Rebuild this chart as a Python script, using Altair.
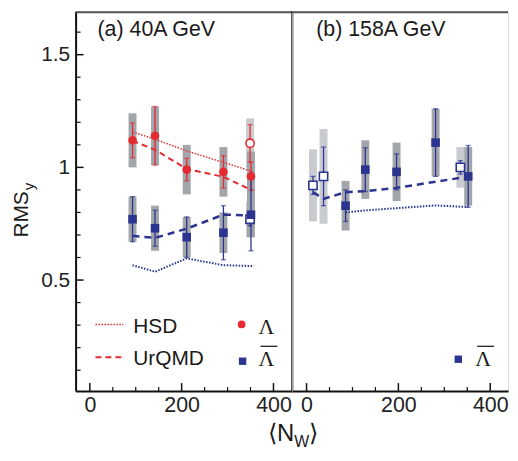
import altair as alt
import pandas as pd

# ---------------- data ----------------
# (a) 40A GeV
a_lam_n = [93, 142, 211, 291, 351]
a_lam_v = [1.12, 1.14, 0.99, 0.98, 0.96]
a_lam_stat = [0.077, 0.13, 0.05, 0.072, 0.062]
a_lam_sys = [0.12, 0.13, 0.11, 0.11, 0.11]

a_lam_open_n = [349]
a_lam_open_v = [1.107]
a_lam_open_stat = [0.083]
a_lam_open_sys = [0.11]

a_alam_n = [93, 142, 211, 291, 351]
a_alam_v = [0.77, 0.73, 0.69, 0.71, 0.79]
a_alam_stat = [0.10, 0.08, 0.09, 0.12, 0.16]
a_alam_sys = [0.10, 0.10, 0.09, 0.09, 0.10]

a_alam_open_n = [349]
a_alam_open_v = [0.77]
a_alam_open_stat = [0.03]
a_alam_open_sys = [0.08]

a_hsd_lam_n = [93, 142, 211, 291, 355]
a_hsd_lam_v = [1.157, 1.125, 1.073, 1.022, 0.981]
a_urqmd_lam_n = [93, 142, 211, 291, 355]
a_urqmd_lam_v = [1.118, 1.078, 0.993, 0.958, 0.897]
a_urqmd_alam_n = [93, 142, 211, 291, 355]
a_urqmd_alam_v = [0.696, 0.687, 0.728, 0.790, 0.787]
a_hsd_alam_n = [93, 142, 211, 291, 357]
a_hsd_alam_v = [0.566, 0.537, 0.596, 0.566, 0.562]

# (b) 158A GeV
b_alam_n = [85, 128, 196, 281, 352]
b_alam_v = [0.83, 0.99, 0.98, 1.11, 0.96]
b_alam_stat = [0.07, 0.097, 0.08, 0.15, 0.137]
b_alam_sys = [0.11, 0.13, 0.13, 0.15, 0.13]

b_alam_open_n = [14, 37, 335]
b_alam_open_v = [0.92, 0.96, 1.00]
b_alam_open_stat = [0.04, 0.13, 0.03]
b_alam_open_sys = [0.16, 0.21, 0.09]

b_urqmd_alam_n = [14, 37, 85, 128, 196, 352]
b_urqmd_alam_v = [0.89, 0.86, 0.89, 0.894, 0.909, 0.959]
b_hsd_alam_n = [85, 128, 196, 281, 352]
b_hsd_alam_v = [0.800, 0.809, 0.819, 0.831, 0.824]

x_major = [0, 200, 400]
x_minor = [50, 100, 150, 250, 300, 350]
y_major = [0.5, 1.0, 1.5]
y_minor = [0.1, 0.2, 0.3, 0.4, 0.6, 0.7, 0.8, 0.9, 1.1, 1.2, 1.3, 1.4, 1.6]

# ---------------- style ----------------
FONT = "Liberation Sans"
SERIF = "Liberation Serif"
RED = "#e52b2f"
BLUE = "#2b3590"
DARK = "#a2a5aa"
LIGHT = "#c9cbd1"
W_L, W_R, H = 218, 217, 382

xs_L = alt.Scale(domain=[-31, 441], nice=False, zero=False)
xs_R = alt.Scale(domain=[-31, 438.7], nice=False, zero=False)
ys = alt.Scale(domain=[0.0075, 1.6925], nice=False, zero=False)

x_axis = alt.Axis(values=x_major, format="d", title=None, ticks=False, tickSize=0,
                  grid=False, domainColor="#111", domainWidth=2, labelFont=FONT,
                  labelFontSize=21.5, labelColor="#222", labelPadding=4, labelFlush=False)
y_axis_L = alt.Axis(values=y_major, format="~g", title=None, ticks=False, tickSize=0,
                    grid=False, domainColor="#111", domainWidth=2, labelFont=FONT,
                    labelFontSize=21, labelColor="#222", labelPadding=6)


def pts_df(n, v, stat=None, sys=None):
    d = {"n": n, "v": v}
    if stat is not None:
        d["slo"] = [a - b for a, b in zip(v, stat)]
        d["shi"] = [a + b for a, b in zip(v, stat)]
    if sys is not None:
        d["ylo"] = [a - b for a, b in zip(v, sys)]
        d["yhi"] = [a + b for a, b in zip(v, sys)]
    return pd.DataFrame(d)


ONE = pd.DataFrame({"k": [0]})


def enc_x(xs):
    return alt.X("n:Q", scale=xs, axis=x_axis)


def enc_y(field, show):
    return alt.Y(field, scale=ys, axis=y_axis_L if show else None)


def box_layer(df, xs, show, color):
    return alt.Chart(df).mark_rule(color=color, strokeWidth=8, strokeCap="butt").encode(
        x=enc_x(xs), y=enc_y("ylo:Q", show), y2="yhi:Q")


def err_layers(df, xs, show, color):
    r = alt.Chart(df).mark_rule(color=color, strokeWidth=1.3).encode(
        x=enc_x(xs), y=enc_y("slo:Q", show), y2="shi:Q")
    c1 = alt.Chart(df).mark_tick(color=color, orient="horizontal", size=5, thickness=1.3).encode(
        x=enc_x(xs), y=enc_y("slo:Q", show))
    c2 = alt.Chart(df).mark_tick(color=color, orient="horizontal", size=5, thickness=1.3).encode(
        x=enc_x(xs), y=enc_y("shi:Q", show))
    return [r, c1, c2]


def line_layer(n, v, xs, show, color, dash, width):
    return alt.Chart(pd.DataFrame({"n": n, "v": v})).mark_line(
        color=color, strokeDash=dash, strokeWidth=width).encode(
        x=enc_x(xs), y=enc_y("v:Q", show))


def point_layer(df, xs, show, color, shape, filled):
    if filled:
        m = alt.Chart(df).mark_point(shape=shape, filled=True, fill=color, color=color,
                                     size=75, opacity=1, strokeWidth=0)
    else:
        m = alt.Chart(df).mark_point(shape=shape, filled=True, fill="white", stroke=color,
                                     size=70, opacity=1, strokeWidth=1.6)
    return m.encode(x=enc_x(xs), y=enc_y("v:Q", show))


def text(t, x, y, size=21, align="left", font=FONT, angle=0, color="#1a1a1a"):
    return alt.Chart(ONE).mark_text(text=t, font=font, fontSize=size, align=align,
                                    baseline="alphabetic", angle=angle, color=color).encode(
        x=alt.value(x), y=alt.value(y))


def hrule(x1, x2, y, color, width=2, dash=None):
    kw = dict(color=color, strokeWidth=width, strokeCap="butt")
    if dash:
        kw["strokeDash"] = dash
    return alt.Chart(ONE).mark_rule(**kw).encode(x=alt.value(x1), x2=alt.value(x2), y=alt.value(y))


def vrule(x, y1, y2, color, width=2):
    return alt.Chart(ONE).mark_rule(color=color, strokeWidth=width, strokeCap="butt").encode(
        x=alt.value(x), y=alt.value(y1), y2=alt.value(y2))


def tick_layers(xs, show_y):
    out = []
    out.append(alt.Chart(pd.DataFrame({"n": x_major})).mark_rule(color="#111", strokeWidth=1.5).encode(
        x=enc_x(xs), y=alt.value(H), y2=alt.value(H - 8)))
    out.append(alt.Chart(pd.DataFrame({"n": x_minor})).mark_rule(color="#111", strokeWidth=1.2).encode(
        x=enc_x(xs), y=alt.value(H), y2=alt.value(H - 4)))
    if show_y:
        out.append(alt.Chart(pd.DataFrame({"v": y_major})).mark_rule(color="#111", strokeWidth=1.5).encode(
            y=enc_y("v:Q", True), x=alt.value(0), x2=alt.value(8)))
        out.append(alt.Chart(pd.DataFrame({"v": y_minor})).mark_rule(color="#111", strokeWidth=1.2).encode(
            y=enc_y("v:Q", True), x=alt.value(0), x2=alt.value(5)))
    return out


# ---------------- panel (a) ----------------
dfa_lam = pts_df(a_lam_n, a_lam_v, a_lam_stat, a_lam_sys)
dfa_lam_o = pts_df(a_lam_open_n, a_lam_open_v, a_lam_open_stat, a_lam_open_sys)
dfa_alam = pts_df(a_alam_n, a_alam_v, a_alam_stat, a_alam_sys)
dfa_alam_o = pts_df(a_alam_open_n, a_alam_open_v, a_alam_open_stat, a_alam_open_sys)

la = [
    box_layer(dfa_lam_o, xs_L, True, LIGHT),
    box_layer(dfa_alam_o, xs_L, True, LIGHT),
    box_layer(dfa_lam, xs_L, True, DARK),
    box_layer(dfa_alam, xs_L, True, DARK),
    line_layer(a_hsd_lam_n, a_hsd_lam_v, xs_L, True, RED, [1.5, 1.5], 1.5),
    line_layer(a_urqmd_lam_n, a_urqmd_lam_v, xs_L, True, RED, [6, 4], 2),
    line_layer(a_urqmd_alam_n, a_urqmd_alam_v, xs_L, True, BLUE, [7, 5], 2.5),
    line_layer(a_hsd_alam_n, a_hsd_alam_v, xs_L, True, BLUE, [1.5, 1.5], 2),
]
la += err_layers(dfa_lam_o, xs_L, True, RED)
la += err_layers(dfa_lam, xs_L, True, RED)
la += err_layers(dfa_alam_o, xs_L, True, BLUE)
la += err_layers(dfa_alam, xs_L, True, BLUE)
la += [
    point_layer(dfa_lam_o, xs_L, True, RED, "circle", False),
    point_layer(dfa_lam, xs_L, True, RED, "circle", True),
    point_layer(dfa_alam_o, xs_L, True, BLUE, "square", False),
    point_layer(dfa_alam, xs_L, True, BLUE, "square", True),
]
la += tick_layers(xs_L, True)
la += [
    hrule(0, W_L, 1, "#555", 2),
    vrule(W_L, 0, H, "#111", 2),
    text("(a) 40A GeV", 22, 25, size=21.5),
    # legend
    hrule(20, 48, 315, RED, 1.5, [1.5, 1.5]),
    text("HSD", 58, 324),
    hrule(20, 48, 348, RED, 2, [6, 4]),
    text("UrQMD", 58, 356),
    alt.Chart(ONE).mark_point(shape="circle", filled=True, color=RED, size=60, opacity=1).encode(
        x=alt.value(167), y=alt.value(315)),
    text("Λ", 184, 325, size=22, font=SERIF),
    alt.Chart(ONE).mark_point(shape="square", filled=True, color=BLUE, size=55, opacity=1).encode(
        x=alt.value(168), y=alt.value(352)),
    text("Λ", 184, 357, size=22, font=SERIF),
    hrule(186, 203, 337, "#222", 1.3),
    # y title
    text("RMS", -48, 181, size=21, align="right", angle=270),
    text("y", -42, 180, size=15, align="left", angle=270),
    # x title
    text("⟨N", 220, 432, size=24, align="right"),
    text("W", 220, 438, size=16, align="left"),
    text("⟩", 235, 432, size=24, align="left"),
]
left = alt.layer(*la).properties(width=W_L, height=H)

# ---------------- panel (b) ----------------
dfb_alam = pts_df(b_alam_n, b_alam_v, b_alam_stat, b_alam_sys)
dfb_alam_o = pts_df(b_alam_open_n, b_alam_open_v, b_alam_open_stat, b_alam_open_sys)

lb = [
    box_layer(dfb_alam_o, xs_R, False, LIGHT),
    box_layer(dfb_alam, xs_R, False, DARK),
    line_layer(b_urqmd_alam_n, b_urqmd_alam_v, xs_R, False, BLUE, [7, 5], 2.5),
    line_layer(b_hsd_alam_n, b_hsd_alam_v, xs_R, False, BLUE, [1.5, 1.5], 2),
]
lb += err_layers(dfb_alam_o, xs_R, False, BLUE)
lb += err_layers(dfb_alam, xs_R, False, BLUE)
lb += [
    point_layer(dfb_alam_o, xs_R, False, BLUE, "square", False),
    point_layer(dfb_alam, xs_R, False, BLUE, "square", True),
]
lb += tick_layers(xs_R, False)
lb += [
    hrule(0, W_R, 1, "#555", 2),
    text("(b) 158A GeV", 24, 25, size=21.5),
    alt.Chart(ONE).mark_point(shape="square", filled=True, color=BLUE, size=55, opacity=1).encode(
        x=alt.value(167), y=alt.value(350)),
    text("Λ", 184, 357, size=22, font=SERIF),
    hrule(186, 203, 337, "#222", 1.3),
]
right = alt.layer(*lb).properties(width=W_R, height=H)

chart = alt.hconcat(left, right, spacing=0, bounds="flush").properties(
    padding={"left": 2, "top": 0, "right": 0, "bottom": 0}
).configure_view(stroke=None).configure(font=FONT)

chart.save("out.html", embed_options={"renderer": "svg", "actions": False})
